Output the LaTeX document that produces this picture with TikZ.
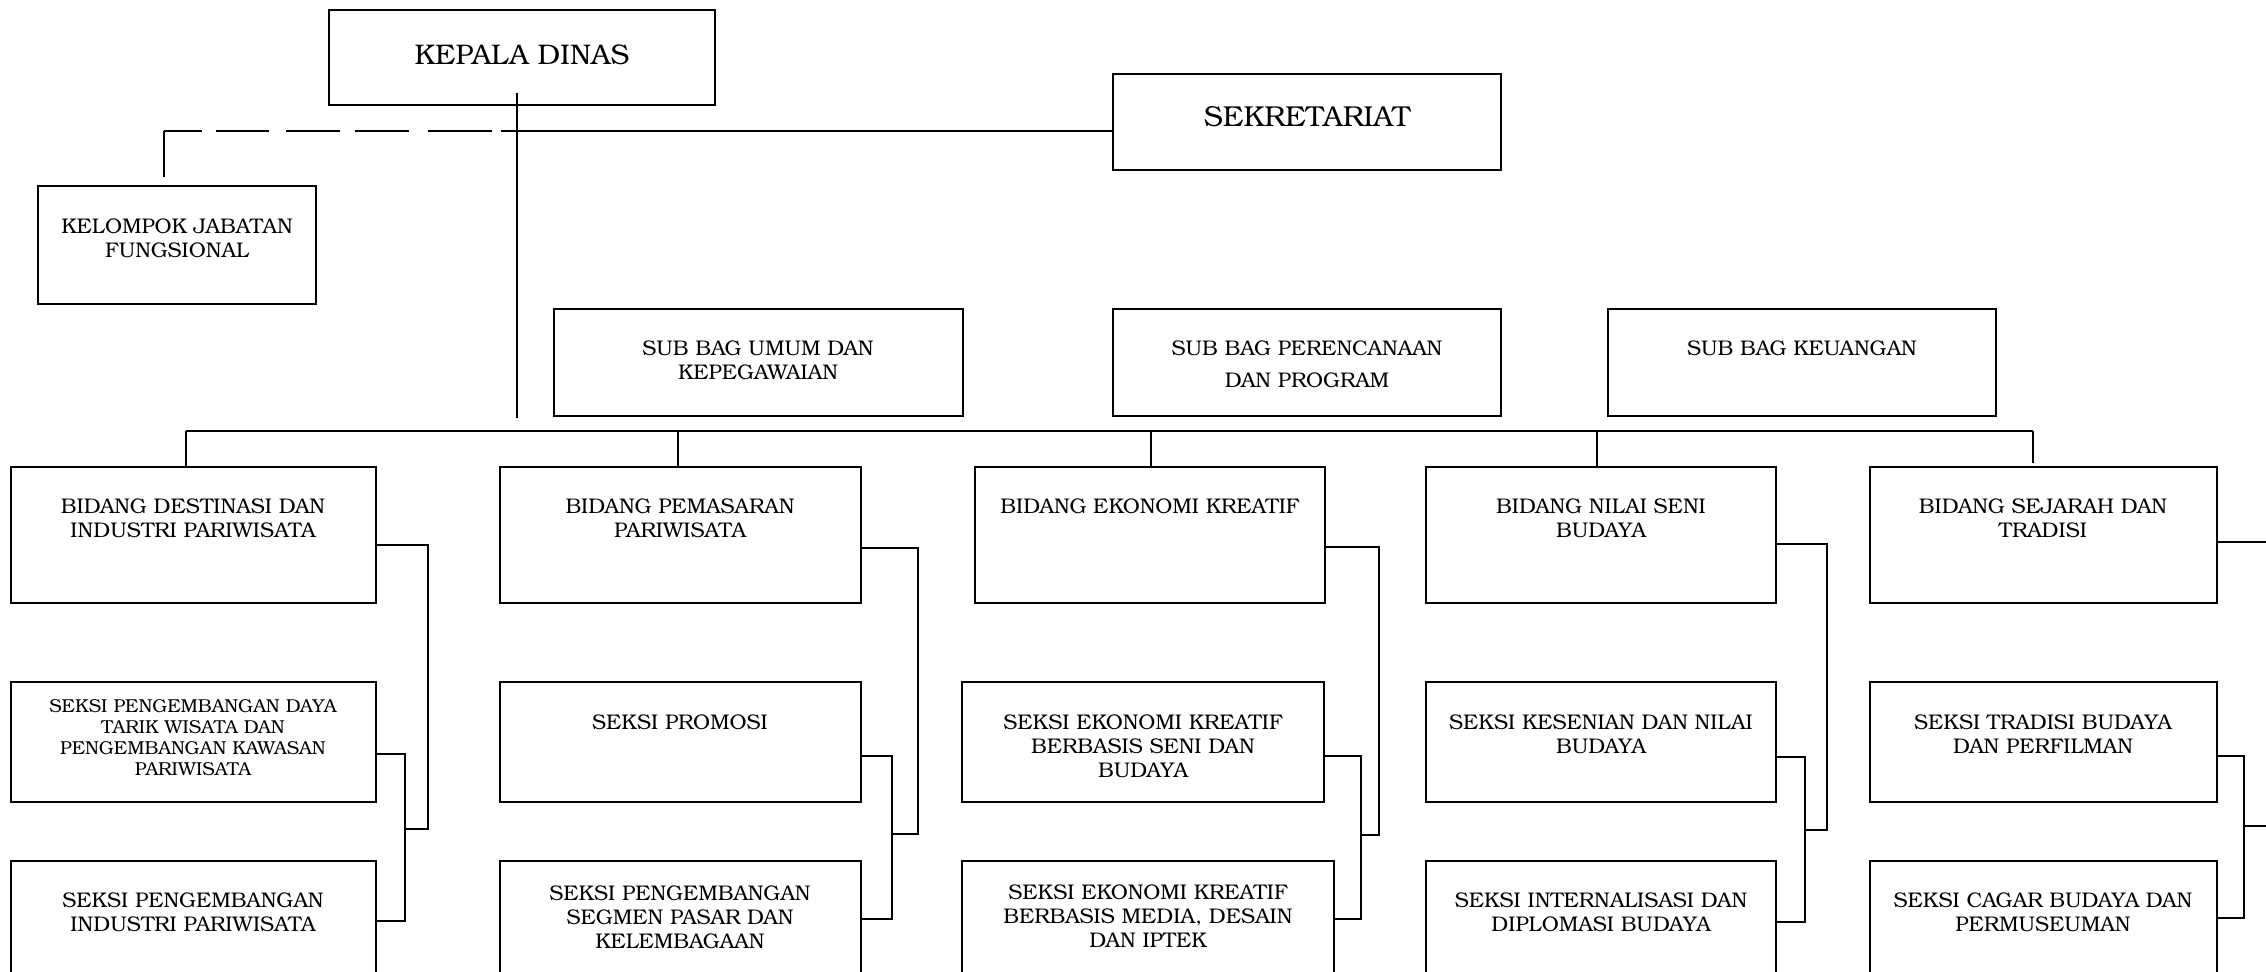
\documentclass[tikz,border=0pt]{standalone}
\usepackage{fontspec}
\setmainfont{TeX Gyre Bonum}
\tikzset{
  orgbox/.style={draw, line width=1pt, rectangle, inner sep=0pt, outer sep=0pt},
  conn/.style={line width=0.8pt},
  txtN/.style={align=center, inner sep=0pt, font=\fontsize{10.6}{12}\selectfont},
  txtS/.style={align=center, inner sep=0pt, font=\fontsize{9.35}{10.5}\selectfont},
  txtB/.style={align=center, inner sep=0pt, font=\fontsize{14.2}{16}\selectfont},
}
\newcommand\orgbx[5]{\node[orgbox, anchor=north west, minimum width={(#4-#2)*0.5pt}, minimum height={(#5-#3)*0.5pt}] (#1) at (#2,#3) {};}
\begin{document}
\begin{tikzpicture}[x=0.5pt,y=-0.5pt]
\useasboundingbox (0,0) rectangle (2266,972);
\clip (0,0) rectangle (2266,972);
% boxes
\orgbx{kd}{329}{10}{715}{105}
\orgbx{kjf}{38}{186}{316}{304}
\orgbx{sek}{1113}{74}{1501}{170}
\orgbx{sbu}{554}{309}{963}{416}
\orgbx{sbp}{1113}{309}{1501}{416}
\orgbx{sbk}{1608}{309}{1996}{416}
\orgbx{b1}{11}{467}{376}{603}
\orgbx{b2}{500}{467}{861}{603}
\orgbx{b3}{975}{467}{1325}{603}
\orgbx{b4}{1426}{467}{1776}{603}
\orgbx{b5}{1870}{467}{2217}{603}
\orgbx{s11}{11}{682}{376}{802}
\orgbx{s12}{11}{861}{376}{1010}
\orgbx{s21}{500}{682}{861}{802}
\orgbx{s22}{500}{861}{861}{1010}
\orgbx{s31}{962}{682}{1324}{802}
\orgbx{s32}{962}{861}{1334}{1010}
\orgbx{s41}{1426}{682}{1776}{802}
\orgbx{s42}{1426}{861}{1776}{1010}
\orgbx{s51}{1870}{682}{2217}{802}
\orgbx{s52}{1870}{861}{2217}{1010}
% texts
\node[txtB] (kdt) at (522,55) {KEPALA DINAS};
\node[txtN] (kjft) at (177,238) {KELOMPOK JABATAN\\FUNGSIONAL};
\node[txtB, font=\fontsize{14.4}{16}\selectfont] (sekt) at (1307,117) {SEKRETARIAT};
\node[txtN] (sbut) at (758,360) {SUB BAG UMUM DAN\\KEPEGAWAIAN};
\node[txtN, font=\fontsize{10.6}{16}\selectfont] (sbpt) at (1307,364) {SUB BAG PERENCANAAN\\DAN PROGRAM};
\node[txtN] (sbkt) at (1802,348) {SUB BAG KEUANGAN};
\node[txtN] (b1t) at (193,518) {BIDANG DESTINASI DAN\\INDUSTRI PARIWISATA};
\node[txtN] (b2t) at (680,518) {BIDANG PEMASARAN\\PARIWISATA};
\node[txtN] (b3t) at (1150,506) {BIDANG EKONOMI KREATIF};
\node[txtN] (b4t) at (1601,518) {BIDANG NILAI SENI\\BUDAYA};
\node[txtN] (b5t) at (2043,518) {BIDANG SEJARAH DAN\\TRADISI};
\node[txtS] (s11t) at (193,738) {SEKSI PENGEMBANGAN DAYA\\TARIK WISATA DAN\\PENGEMBANGAN KAWASAN\\PARIWISATA};
\node[txtN] (s12t) at (193,912) {SEKSI PENGEMBANGAN\\INDUSTRI PARIWISATA};
\node[txtN] (s21t) at (680,722) {SEKSI PROMOSI};
\node[txtN] (s22t) at (680,917) {SEKSI PENGEMBANGAN\\SEGMEN PASAR DAN\\KELEMBAGAAN};
\node[txtN] (s31t) at (1143,746) {SEKSI EKONOMI KREATIF\\BERBASIS SENI DAN\\BUDAYA};
\node[txtN] (s32t) at (1148,916) {SEKSI EKONOMI KREATIF\\BERBASIS MEDIA, DESAIN\\DAN IPTEK};
\node[txtN] (s41t) at (1601,734) {SEKSI KESENIAN DAN NILAI\\BUDAYA};
\node[txtN] (s42t) at (1601,912) {SEKSI INTERNALISASI DAN\\DIPLOMASI BUDAYA};
\node[txtN] (s51t) at (2043,734) {SEKSI TRADISI BUDAYA\\DAN PERFILMAN};
\node[txtN] (s52t) at (2043,912) {SEKSI CAGAR BUDAYA DAN\\PERMUSEUMAN};
% coordinates
\coordinate (kdtop) at (517,93);
\coordinate (kdbot) at (517,418);
\coordinate (fcorner) at (164,131);
\coordinate (ftop) at (164,177);
\coordinate (busL) at (186,431);
\coordinate (busR) at (2033,431);
\coordinate (d2) at (678,431);
\coordinate (d3) at (1151,431);
\coordinate (d4) at (1597,431);
\coordinate (b5top) at (2033,463);
% top structure
\draw[conn] (kdtop) -- (kdbot);
\draw[conn] (ftop) -- (fcorner);
\draw[conn, dash pattern=on 19pt off 7pt on 26.5pt off 8.5pt on 27pt off 7.5pt on 27pt off 9.5pt on 32pt off 4.5pt on 1000pt] (fcorner) -- (sek.west |- fcorner);
% bus
\draw[conn] (busL) -- (busR);
\draw[conn] (busL) -- (b1.north -| busL);
\draw[conn] (d2) -- (b2.north -| d2);
\draw[conn] (d3) -- (b3.north -| d3);
\draw[conn] (d4) -- (b4.north -| d4);
\draw[conn] (busR) -- (b5top);
% column 1
\coordinate (c1a) at (428,545); \coordinate (c1b) at (428,829); \coordinate (c1c) at (405,829);
\coordinate (k1t) at (405,754); \coordinate (k1b) at (405,921);
\draw[conn] (b1.east |- c1a) -- (c1a) -- (c1b) -- (c1c);
\draw[conn] (s11.east |- k1t) -- (k1t) -- (k1b) -- (s12.east |- k1b);
% column 2
\coordinate (c2a) at (918,548); \coordinate (c2b) at (918,834); \coordinate (c2c) at (892,834);
\coordinate (k2t) at (892,756); \coordinate (k2b) at (892,919);
\draw[conn] (b2.east |- c2a) -- (c2a) -- (c2b) -- (c2c);
\draw[conn] (s21.east |- k2t) -- (k2t) -- (k2b) -- (s22.east |- k2b);
% column 3
\coordinate (c3a) at (1379,547); \coordinate (c3b) at (1379,835); \coordinate (c3c) at (1361,835);
\coordinate (k3t) at (1361,756); \coordinate (k3b) at (1361,919);
\draw[conn] (b3.east |- c3a) -- (c3a) -- (c3b) -- (c3c);
\draw[conn] (s31.east |- k3t) -- (k3t) -- (k3b) -- (s32.east |- k3b);
% column 4
\coordinate (c4a) at (1827,544); \coordinate (c4b) at (1827,830); \coordinate (c4c) at (1805,830);
\coordinate (k4t) at (1805,757); \coordinate (k4b) at (1805,922);
\draw[conn] (b4.east |- c4a) -- (c4a) -- (c4b) -- (c4c);
\draw[conn] (s41.east |- k4t) -- (k4t) -- (k4b) -- (s42.east |- k4b);
% column 5
\coordinate (c5a) at (2266,542); \coordinate (c5m) at (2244,826); \coordinate (c5e) at (2266,826);
\coordinate (k5t) at (2244,756); \coordinate (k5b) at (2244,918);
\draw[conn] (b5.east |- c5a) -- (c5a);
\draw[conn] (s51.east |- k5t) -- (k5t) -- (k5b) -- (s52.east |- k5b);
\draw[conn] (c5m) -- (c5e);
\end{tikzpicture}
\end{document}
